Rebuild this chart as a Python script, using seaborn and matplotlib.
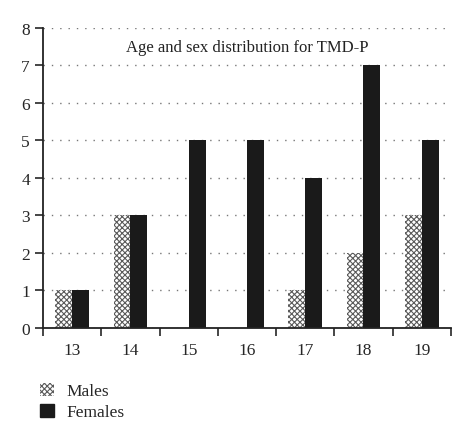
import pandas as pd
import matplotlib
matplotlib.use("Agg")
import matplotlib.pyplot as plt
import seaborn as sns
from matplotlib.patches import Patch
from matplotlib.ticker import FixedLocator

ages = ["13", "14", "15", "16", "17", "18", "19"]
males = [1, 3, 0, 0, 1, 2, 3]
females = [1, 3, 5, 5, 4, 7, 5]
groups = ["Males", "Females"]

sns.set_style("white")
plt.rcParams["font.family"] = ["Liberation Serif", "DejaVu Serif"]
plt.rcParams["hatch.linewidth"] = 0.8

df = pd.DataFrame({
    "age": ages * 2,
    "count": males + females,
    "sex": [groups[0]] * len(ages) + [groups[1]] * len(ages),
})

fig = plt.figure(figsize=(4.74, 4.39), dpi=100)
ax = fig.add_axes([0.091, 0.2506, 0.860, 0.6834])

sns.barplot(data=df, x="age", y="count", hue="sex", hue_order=groups,
            palette=["white", "#1a1a1a"], width=0.58, ax=ax,
            linewidth=0, saturation=1, legend=False)

# cross-hatched males
for p in ax.containers[0]:
    p.set_hatch("xxxxxx")
    p.set_edgecolor("#5a5a5a")
    p.set_linewidth(0)

ax.set_xlim(-0.5, len(ages) - 0.5)
ax.set_ylim(0, 8)
ax.set_yticks(range(0, 9))
ax.yaxis.grid(True, linestyle=(0, (1, 5)), color="#777777", linewidth=1)
ax.set_axisbelow(True)

# ticks at category boundaries, labels at centers
ax.xaxis.set_major_locator(FixedLocator([i - 0.5 for i in range(len(ages) + 1)]))
ax.xaxis.set_minor_locator(FixedLocator(range(len(ages))))
ax.xaxis.set_major_formatter(matplotlib.ticker.NullFormatter())
ax.xaxis.set_minor_formatter(matplotlib.ticker.FixedFormatter(ages))
ax.tick_params(axis="x", which="major", direction="out", length=6, width=1.2, bottom=True)
ax.tick_params(axis="x", which="minor", length=0, labelsize=12.5, pad=10, bottom=True)
ax.tick_params(axis="y", direction="out", length=6, width=1.2, labelsize=12.5, left=True)
ax.set_xlabel("")
ax.set_ylabel("")

for s in ["top", "right"]:
    ax.spines[s].set_visible(False)
for s in ["left", "bottom"]:
    ax.spines[s].set_linewidth(1.3)
    ax.spines[s].set_color("#222222")

ax.text(0.5, 0.937, "Age and sex distribution for TMD-P", transform=ax.transAxes,
        ha="center", va="center", fontsize=12, color="#222222")

handles = [
    Patch(facecolor="white", edgecolor="#5a5a5a", hatch="xxxxxx", linewidth=0, label="Males"),
    Patch(facecolor="#1a1a1a", edgecolor="#1a1a1a", label="Females"),
]
fig.legend(handles=handles, loc="upper left", bbox_to_anchor=(0.07, 0.142),
           frameon=False, fontsize=12.5, handlelength=0.8, handleheight=0.8,
           handletextpad=0.7, labelspacing=0.25, borderaxespad=0)

fig.savefig("out.png", dpi=100)
